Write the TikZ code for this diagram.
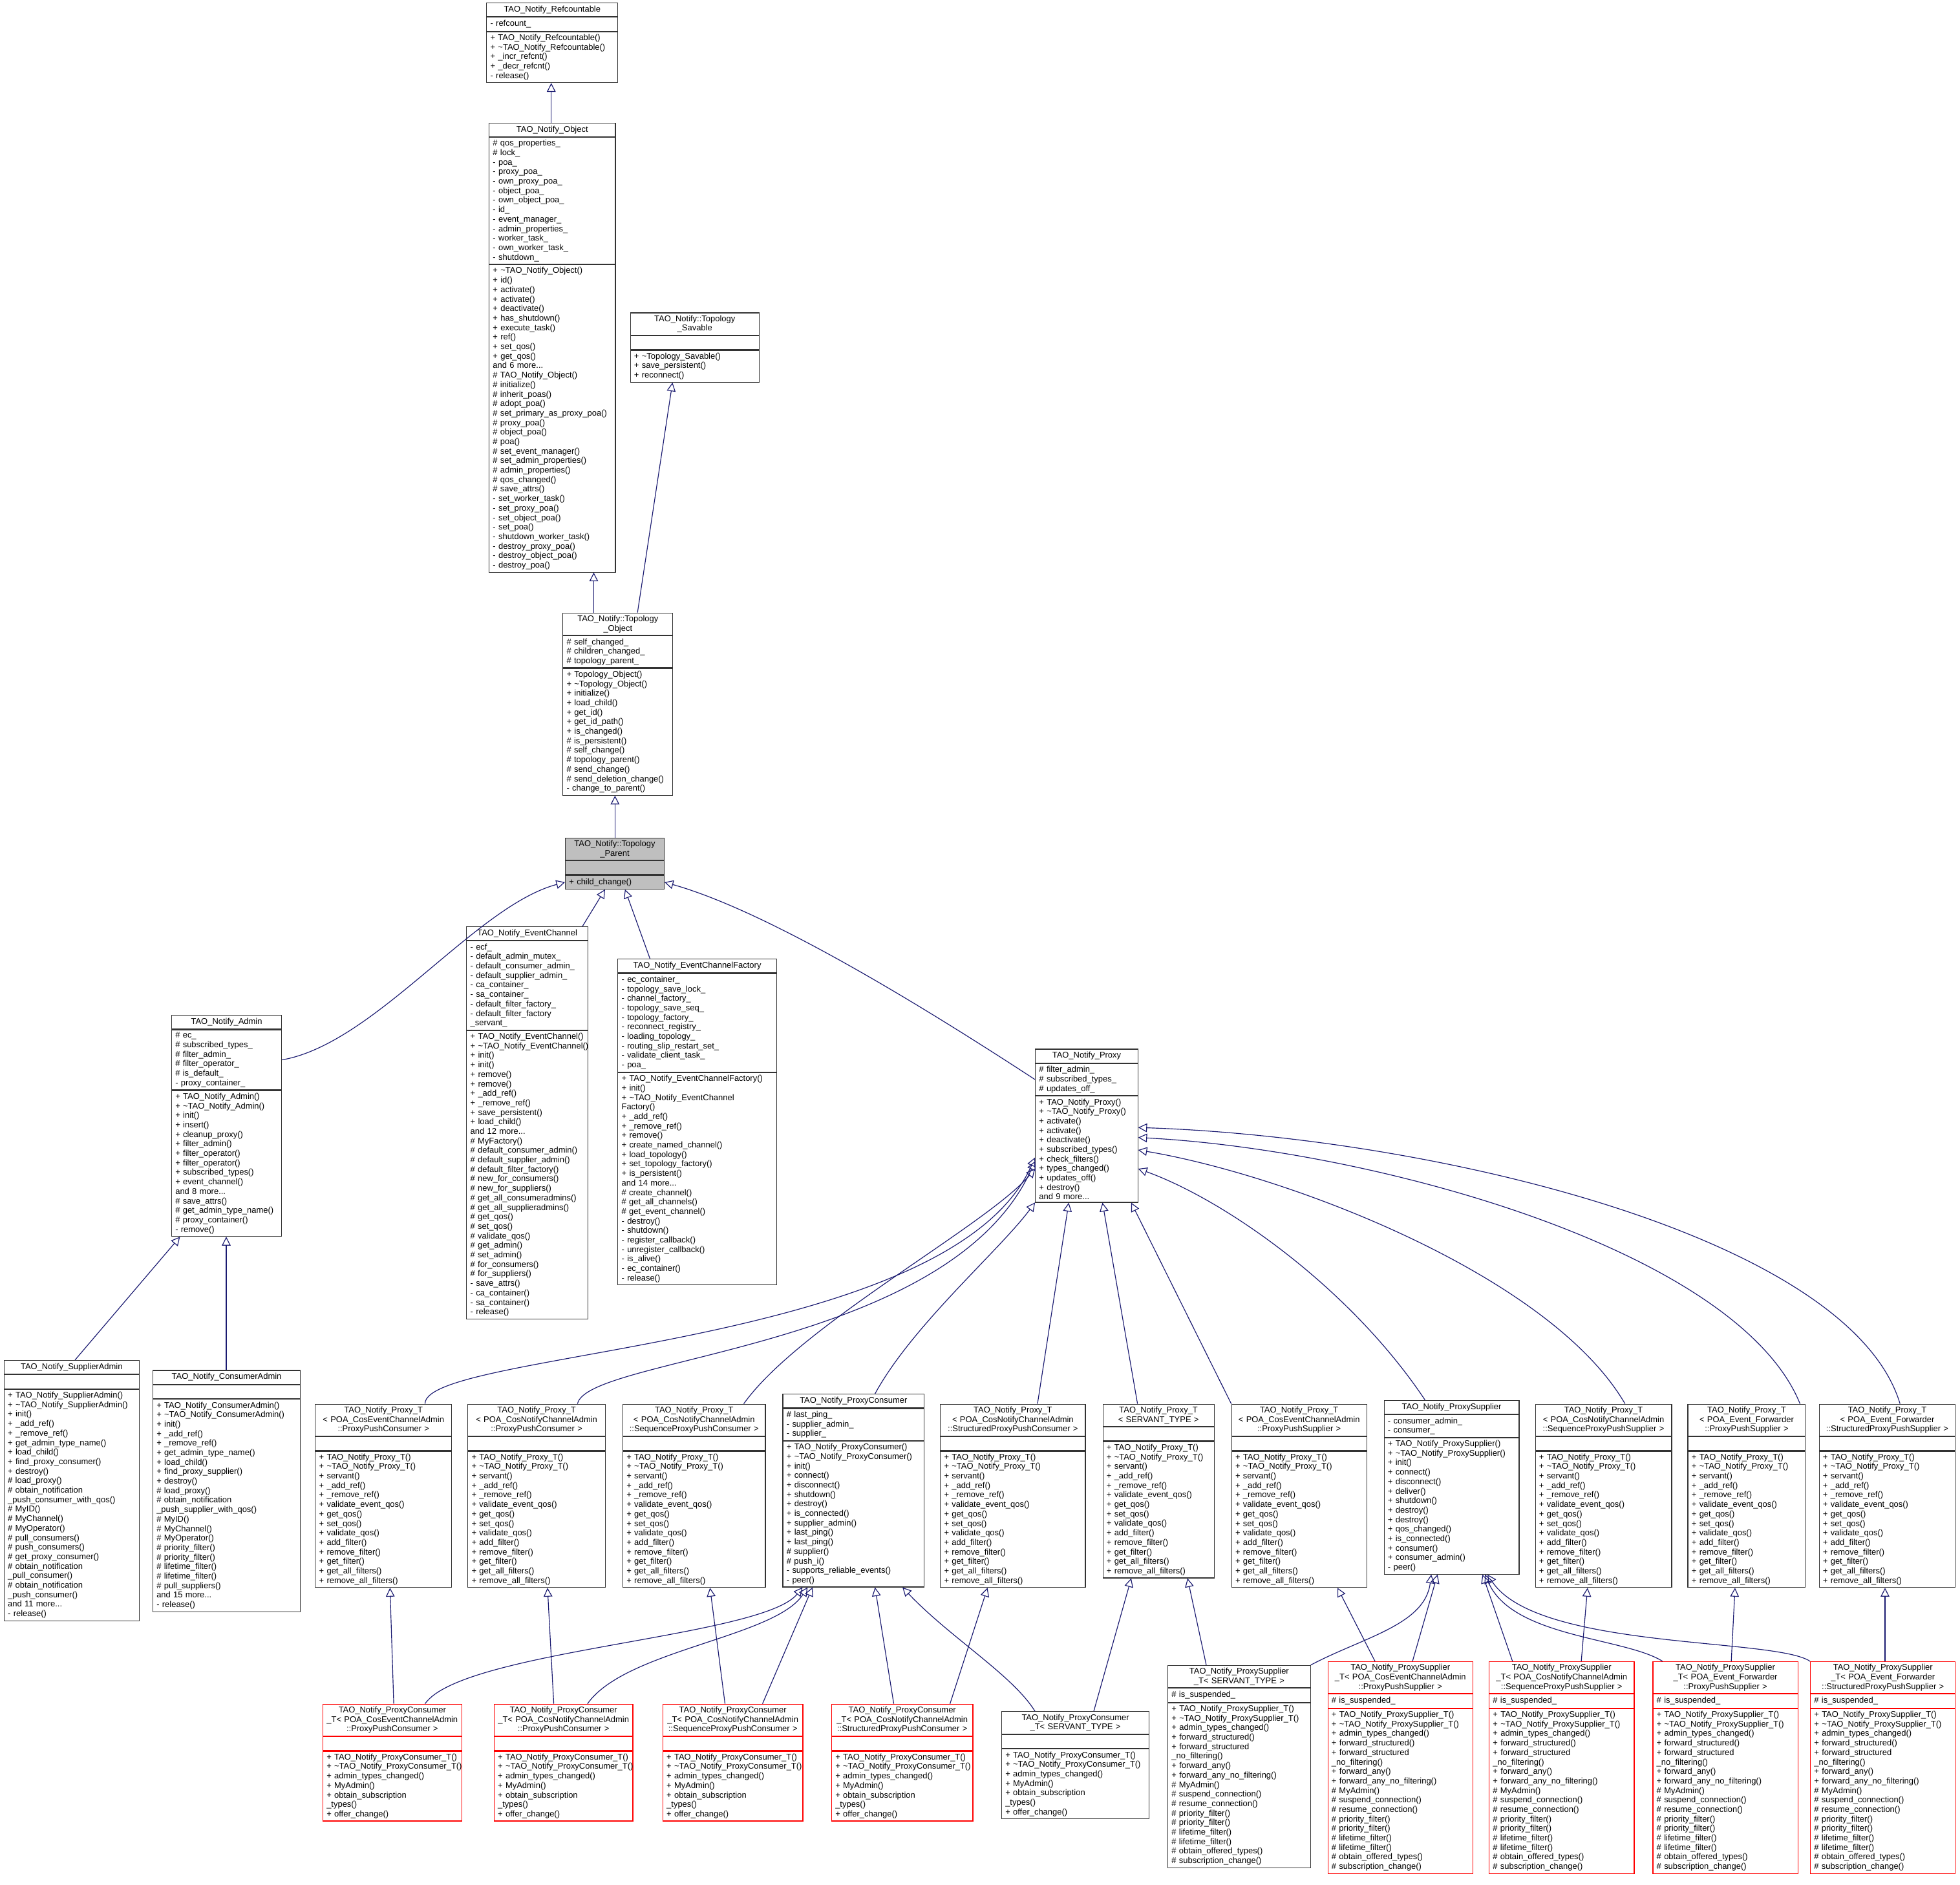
\documentclass[tikz,border=0pt]{standalone}
\usepackage{fontspec}
\setmainfont{Liberation Sans}
\usetikzlibrary{arrows.meta}
\definecolor{edgec}{HTML}{191970}
\newcommand\tl{+\nobreakspace\textasciitilde}
\tikzset{
 csec/.style={draw=black!80,line width=0.6pt,fill=white,inner xsep=3pt,inner ysep=2pt,font=\fontsize{6.7}{7.6}\selectfont,align=left,minimum height=11pt,anchor=north west},
 ctitle/.style={csec,align=center},
 redc/.style={draw=red},
 grayc/.style={fill=black!25},
 inh/.style={draw=edgec,line width=0.6pt,-{Triangle[open,length=7pt,width=7pt]}},
}
\newcommand\umlcls[8]{%
 \pgfmathsetmacro\tw{#4-6}%
 \node[ctitle,#8,text width=\tw pt] (#1t) at (#2,-#3) {#5};
 \node[csec,#8,text width=\tw pt] (#1a) at (#1t.south west) {#6};
 \node[csec,#8,text width=\tw pt] (#1m) at (#1a.south west) {#7};
}
\newcommand\PTm{+ TAO\_Notify\_Proxy\_T()\\\tl TAO\_Notify\_Proxy\_T()\\+ servant()\\+ \_add\_ref()\\+ \_remove\_ref()\\+ validate\_event\_qos()\\+ get\_qos()\\+ set\_qos()\\+ validate\_qos()\\+ add\_filter()\\+ remove\_filter()\\+ get\_filter()\\+ get\_all\_filters()\\+ remove\_all\_filters()}
\newcommand\PCm{+ TAO\_Notify\_ProxyConsumer\_T()\\\tl TAO\_Notify\_ProxyConsumer\_T()\\+ admin\_types\_changed()\\+ MyAdmin()\\+ obtain\_subscription\\\_types()\\+ offer\_change()}
\newcommand\PSm{+ TAO\_Notify\_ProxySupplier\_T()\\\tl TAO\_Notify\_ProxySupplier\_T()\\+ admin\_types\_changed()\\+ forward\_structured()\\+ forward\_structured\\\_no\_filtering()\\+ forward\_any()\\+ forward\_any\_no\_filtering()\\\# MyAdmin()\\\# suspend\_connection()\\\# resume\_connection()\\\# priority\_filter()\\\# priority\_filter()\\\# lifetime\_filter()\\\# lifetime\_filter()\\\# obtain\_offered\_types()\\\# subscription\_change()}
\begin{document}
\begin{tikzpicture}[x=1pt,y=1pt]
\useasboundingbox (0,0) rectangle (1568,-1507.5);
\fill[white] (0,0) rectangle (1568,-1507.5);
% top chain
\umlcls{ref}{389}{2}{105}{TAO\_Notify\_Refcountable}{- refcount\_}{+ TAO\_Notify\_Refcountable()\\\tl TAO\_Notify\_Refcountable()\\+ \_incr\_refcnt()\\+ \_decr\_refcnt()\\- release()}{}
\umlcls{obj}{391}{98}{101}{TAO\_Notify\_Object}{\# qos\_properties\_\\\# lock\_\\- poa\_\\- proxy\_poa\_\\- own\_proxy\_poa\_\\- object\_poa\_\\- own\_object\_poa\_\\- id\_\\- event\_manager\_\\- admin\_properties\_\\- worker\_task\_\\- own\_worker\_task\_\\- shutdown\_}{\tl TAO\_Notify\_Object()\\+ id()\\+ activate()\\+ activate()\\+ deactivate()\\+ has\_shutdown()\\+ execute\_task()\\+ ref()\\+ set\_qos()\\+ get\_qos()\\and 6 more...\\\# TAO\_Notify\_Object()\\\# initialize()\\\# inherit\_poas()\\\# adopt\_poa()\\\# set\_primary\_as\_proxy\_poa()\\\# proxy\_poa()\\\# object\_poa()\\\# poa()\\\# set\_event\_manager()\\\# set\_admin\_properties()\\\# admin\_properties()\\\# qos\_changed()\\\# save\_attrs()\\- set\_worker\_task()\\- set\_proxy\_poa()\\- set\_object\_poa()\\- set\_poa()\\- shutdown\_worker\_task()\\- destroy\_proxy\_poa()\\- destroy\_object\_poa()\\- destroy\_poa()}{}
\umlcls{sav}{504}{250}{103}{TAO\_Notify::Topology\\\_Savable}{}{\tl Topology\_Savable()\\+ save\_persistent()\\+ reconnect()}{}
\umlcls{topo}{450}{490}{88}{TAO\_Notify::Topology\\\_Object}{\# self\_changed\_\\\# children\_changed\_\\\# topology\_parent\_}{+ Topology\_Object()\\\tl Topology\_Object()\\+ initialize()\\+ load\_child()\\+ get\_id()\\+ get\_id\_path()\\+ is\_changed()\\\# is\_persistent()\\\# self\_change()\\\# topology\_parent()\\\# send\_change()\\\# send\_deletion\_change()\\- change\_to\_parent()}{}
\umlcls{par}{452}{670}{79}{TAO\_Notify::Topology\\\_Parent}{}{+ child\_change()}{grayc}
% second level
\umlcls{adm}{137}{812}{88}{TAO\_Notify\_Admin}{\# ec\_\\\# subscribed\_types\_\\\# filter\_admin\_\\\# filter\_operator\_\\\# is\_default\_\\- proxy\_container\_}{+ TAO\_Notify\_Admin()\\\tl TAO\_Notify\_Admin()\\+ init()\\+ insert()\\+ cleanup\_proxy()\\+ filter\_admin()\\+ filter\_operator()\\+ filter\_operator()\\+ subscribed\_types()\\+ event\_channel()\\and 8 more...\\\# save\_attrs()\\\# get\_admin\_type\_name()\\\# proxy\_container()\\- remove()}{}
\umlcls{ec}{373}{741}{97}{TAO\_Notify\_EventChannel}{- ecf\_\\- default\_admin\_mutex\_\\- default\_consumer\_admin\_\\- default\_supplier\_admin\_\\- ca\_container\_\\- sa\_container\_\\- default\_filter\_factory\_\\- default\_filter\_factory\\\_servant\_}{+ TAO\_Notify\_EventChannel()\\\tl TAO\_Notify\_EventChannel()\\+ init()\\+ init()\\+ remove()\\+ remove()\\+ \_add\_ref()\\+ \_remove\_ref()\\+ save\_persistent()\\+ load\_child()\\and 12 more...\\\# MyFactory()\\\# default\_consumer\_admin()\\\# default\_supplier\_admin()\\\# default\_filter\_factory()\\\# new\_for\_consumers()\\\# new\_for\_suppliers()\\\# get\_all\_consumeradmins()\\\# get\_all\_supplieradmins()\\\# get\_qos()\\\# set\_qos()\\\# validate\_qos()\\\# get\_admin()\\\# set\_admin()\\\# for\_consumers()\\\# for\_suppliers()\\- save\_attrs()\\- ca\_container()\\- sa\_container()\\- release()}{}
\umlcls{ecf}{494}{767}{127}{TAO\_Notify\_EventChannelFactory}{- ec\_container\_\\- topology\_save\_lock\_\\- channel\_factory\_\\- topology\_save\_seq\_\\- topology\_factory\_\\- reconnect\_registry\_\\- loading\_topology\_\\- routing\_slip\_restart\_set\_\\- validate\_client\_task\_\\- poa\_}{+ TAO\_Notify\_EventChannelFactory()\\+ init()\\\tl TAO\_Notify\_EventChannel\\Factory()\\+ \_add\_ref()\\+ \_remove\_ref()\\+ remove()\\+ create\_named\_channel()\\+ load\_topology()\\+ set\_topology\_factory()\\+ is\_persistent()\\and 14 more...\\\# create\_channel()\\\# get\_all\_channels()\\\# get\_event\_channel()\\- destroy()\\- shutdown()\\- register\_callback()\\- unregister\_callback()\\- is\_alive()\\- ec\_container()\\- release()}{}
\umlcls{prx}{828}{839}{82}{TAO\_Notify\_Proxy}{\# filter\_admin\_\\\# subscribed\_types\_\\\# updates\_off\_}{+ TAO\_Notify\_Proxy()\\\tl TAO\_Notify\_Proxy()\\+ activate()\\+ activate()\\+ deactivate()\\+ subscribed\_types()\\+ check\_filters()\\+ types\_changed()\\+ updates\_off()\\+ destroy()\\and 9 more...}{}
% admins
\umlcls{sa}{3}{1088}{108}{TAO\_Notify\_SupplierAdmin}{}{+ TAO\_Notify\_SupplierAdmin()\\\tl TAO\_Notify\_SupplierAdmin()\\+ init()\\+ \_add\_ref()\\+ \_remove\_ref()\\+ get\_admin\_type\_name()\\+ load\_child()\\+ find\_proxy\_consumer()\\+ destroy()\\\# load\_proxy()\\\# obtain\_notification\\\_push\_consumer\_with\_qos()\\\# MyID()\\\# MyChannel()\\\# MyOperator()\\\# pull\_consumers()\\\# push\_consumers()\\\# get\_proxy\_consumer()\\\# obtain\_notification\\\_pull\_consumer()\\\# obtain\_notification\\\_push\_consumer()\\and 11 more...\\- release()}{}
\umlcls{ca}{122}{1096}{118}{TAO\_Notify\_ConsumerAdmin}{}{+ TAO\_Notify\_ConsumerAdmin()\\\tl TAO\_Notify\_ConsumerAdmin()\\+ init()\\+ \_add\_ref()\\+ \_remove\_ref()\\+ get\_admin\_type\_name()\\+ load\_child()\\+ find\_proxy\_supplier()\\+ destroy()\\\# load\_proxy()\\\# obtain\_notification\\\_push\_supplier\_with\_qos()\\\# MyID()\\\# MyChannel()\\\# MyOperator()\\\# priority\_filter()\\\# priority\_filter()\\\# lifetime\_filter()\\\# lifetime\_filter()\\\# pull\_suppliers()\\and 15 more...\\- release()}{}
% middle row
\umlcls{pa}{252}{1123}{109}{TAO\_Notify\_Proxy\_T\\< POA\_CosEventChannelAdmin\\::ProxyPushConsumer >}{}{\PTm}{}
\umlcls{pb}{374}{1123}{110}{TAO\_Notify\_Proxy\_T\\< POA\_CosNotifyChannelAdmin\\::ProxyPushConsumer >}{}{\PTm}{}
\umlcls{pc}{498}{1123}{114}{TAO\_Notify\_Proxy\_T\\< POA\_CosNotifyChannelAdmin\\::SequenceProxyPushConsumer >}{}{\PTm}{}
\umlcls{pcon}{626}{1115}{113}{TAO\_Notify\_ProxyConsumer}{\# last\_ping\_\\- supplier\_admin\_\\- supplier\_}{+ TAO\_Notify\_ProxyConsumer()\\\tl TAO\_Notify\_ProxyConsumer()\\+ init()\\+ connect()\\+ disconnect()\\+ shutdown()\\+ destroy()\\+ is\_connected()\\+ supplier\_admin()\\+ last\_ping()\\+ last\_ping()\\\# supplier()\\\# push\_i()\\- supports\_reliable\_events()\\- peer()}{}
\umlcls{pd}{752}{1123}{116}{TAO\_Notify\_Proxy\_T\\< POA\_CosNotifyChannelAdmin\\::StructuredProxyPushConsumer >}{}{\PTm}{}
\umlcls{pe}{882}{1123}{89}{TAO\_Notify\_Proxy\_T\\< SERVANT\_TYPE >}{}{\PTm}{}
\umlcls{pf}{985}{1123}{108}{TAO\_Notify\_Proxy\_T\\< POA\_CosEventChannelAdmin\\::ProxyPushSupplier >}{}{\PTm}{}
\umlcls{psup}{1107}{1120}{108}{TAO\_Notify\_ProxySupplier}{- consumer\_admin\_\\- consumer\_}{+ TAO\_Notify\_ProxySupplier()\\\tl TAO\_Notify\_ProxySupplier()\\+ init()\\+ connect()\\+ disconnect()\\+ deliver()\\+ shutdown()\\+ destroy()\\+ destroy()\\+ qos\_changed()\\+ is\_connected()\\+ consumer()\\+ consumer\_admin()\\- peer()}{}
\umlcls{pg}{1228}{1123}{109}{TAO\_Notify\_Proxy\_T\\< POA\_CosNotifyChannelAdmin\\::SequenceProxyPushSupplier >}{}{\PTm}{}
\umlcls{ph}{1350}{1123}{94}{TAO\_Notify\_Proxy\_T\\< POA\_Event\_Forwarder\\::ProxyPushSupplier >}{}{\PTm}{}
\umlcls{pi}{1455}{1123}{109}{TAO\_Notify\_Proxy\_T\\< POA\_Event\_Forwarder\\::StructuredProxyPushSupplier >}{}{\PTm}{}
% bottom row consumers
\umlcls{ca1}{258}{1363}{111}{TAO\_Notify\_ProxyConsumer\\\_T< POA\_CosEventChannelAdmin\\::ProxyPushConsumer >}{}{\PCm}{redc}
\umlcls{ca2}{395}{1363}{111}{TAO\_Notify\_ProxyConsumer\\\_T< POA\_CosNotifyChannelAdmin\\::ProxyPushConsumer >}{}{\PCm}{redc}
\umlcls{ca3}{530}{1363}{112}{TAO\_Notify\_ProxyConsumer\\\_T< POA\_CosNotifyChannelAdmin\\::SequenceProxyPushConsumer >}{}{\PCm}{redc}
\umlcls{ca4}{665}{1363}{113}{TAO\_Notify\_ProxyConsumer\\\_T< POA\_CosNotifyChannelAdmin\\::StructuredProxyPushConsumer >}{}{\PCm}{redc}
\umlcls{ca5}{801}{1369}{118}{TAO\_Notify\_ProxyConsumer\\\_T< SERVANT\_TYPE >}{}{\PCm}{}
% bottom row suppliers
\umlcls{sb0}{934}{1332}{114}{TAO\_Notify\_ProxySupplier\\\_T< SERVANT\_TYPE >}{\# is\_suspended\_}{\PSm}{}
\umlcls{sb1}{1062}{1329}{116}{TAO\_Notify\_ProxySupplier\\\_T< POA\_CosEventChannelAdmin\\::ProxyPushSupplier >}{\# is\_suspended\_}{\PSm}{redc}
\umlcls{sb2}{1191}{1329}{116}{TAO\_Notify\_ProxySupplier\\\_T< POA\_CosNotifyChannelAdmin\\::SequenceProxyPushSupplier >}{\# is\_suspended\_}{\PSm}{redc}
\umlcls{sb3}{1322}{1329}{116}{TAO\_Notify\_ProxySupplier\\\_T< POA\_Event\_Forwarder\\::ProxyPushSupplier >}{\# is\_suspended\_}{\PSm}{redc}
\umlcls{sb4}{1448}{1329}{116}{TAO\_Notify\_ProxySupplier\\\_T< POA\_Event\_Forwarder\\::StructuredProxyPushSupplier >}{\# is\_suspended\_}{\PSm}{redc}
% ===== edges
\draw[inh] (objt.north -| 441,0) -- (refm.south -| 441,0);
\draw[inh] (topot.north -| 475,0) -- (objm.south -| 475,0);
\draw[inh] (topot.north -| 510,0) -- (savm.south -| 538,0);
\draw[inh] (part.north -| 492,0) -- (topom.south -| 492,0);
\draw[inh] (adma.east) .. controls (300,-835) and (380,-725) .. (parm.west);
\draw[inh] (ect.north -| 466,0) -- (parm.south -| 484,0);
\draw[inh] (ecft.north -| 520,0) -- (parm.south -| 500,0);
\draw[inh] (prxa.west) .. controls (700,-780) and (600,-725) .. (parm.east);
\draw[inh] (sat.north -| 60,0) -- (admm.south -| 144,0);
\draw[inh] (cat.north -| 181,0) -- (admm.south -| 181,0);
% middle row to proxy
\draw[inh] (pat.north -| 340,0) .. controls (340,-1080) and (760,-1080) .. (prxm.west |- 0,-926);
\draw[inh] (pbt.north -| 462,0) .. controls (470,-1085) and (760,-1080) .. (prxm.west |- 0,-929);
\draw[inh] (pct.north -| 595,0) .. controls (640,-1060) and (790,-980) .. (prxm.west |- 0,-935);
\draw[inh] (pcont.north -| 700,0) .. controls (730,-1060) and (800,-1000) .. (prxm.west |- 0,-962);
\draw[inh] (pdt.north -| 830,0) -- (prxm.south -| 855,0);
\draw[inh] (pet.north -| 910,0) -- (prxm.south -| 882,0);
\draw[inh] (pft.north -| 985,0) -- (prxm.south -| 905,0);
\draw[inh] (psupt.north -| 1140,0) .. controls (1080,-1030) and (980,-960) .. (prxm.east |- 0,-935);
\draw[inh] (pgt.north -| 1300,0) .. controls (1240,-1020) and (1030,-940) .. (prxm.east |- 0,-920);
\draw[inh] (pht.north -| 1440,0) .. controls (1390,-1000) and (1100,-920) .. (prxm.east |- 0,-910);
\draw[inh] (pit.north -| 1520,0) .. controls (1480,-990) and (1150,-910) .. (prxm.east |- 0,-902);
% bottom consumers
\draw[inh] (ca1t.north -| 315,0) -- (pam.south -| 312,0);
\draw[inh] (ca1t.north -| 340,0) .. controls (370,-1320) and (610,-1310) .. (pconm.south -| 642,0);
\draw[inh] (ca2t.north -| 443,0) -- (pbm.south -| 438,0);
\draw[inh] (ca2t.north -| 470,0) .. controls (500,-1320) and (620,-1310) .. (pconm.south -| 646,0);
\draw[inh] (ca3t.north -| 580,0) -- (pcm.south -| 568,0);
\draw[inh] (ca3t.north -| 610,0) -- (pconm.south -| 650,0);
\draw[inh] (ca4t.north -| 715,0) -- (pconm.south -| 700,0);
\draw[inh] (ca4t.north -| 760,0) -- (pdm.south -| 790,0);
\draw[inh] (ca5t.north -| 828,0) .. controls (810,-1340) and (760,-1310) .. (pconm.south -| 722,0);
\draw[inh] (ca5t.north -| 875,0) -- (pem.south -| 905,0);
% bottom suppliers
\draw[inh] (sb0t.north -| 965,0) -- (pem.south -| 950,0);
\draw[inh] (sb0t.north east) .. controls (1090,-1310) and (1140,-1300) .. (psupm.south -| 1145,0);
\draw[inh] (sb1t.north -| 1100,0) -- (pfm.south -| 1070,0);
\draw[inh] (sb1t.north -| 1130,0) -- (psupm.south -| 1150,0);
\draw[inh] (sb2t.north -| 1210,0) -- (psupm.south -| 1186,0);
\draw[inh] (sb2t.north -| 1265,0) -- (pgm.south -| 1270,0);
\draw[inh] (sb3t.north -| 1330,0) .. controls (1300,-1310) and (1210,-1310) .. (psupm.south -| 1188,0);
\draw[inh] (sb3t.north -| 1385,0) -- (phm.south -| 1388,0);
\draw[inh] (sb4t.north west) .. controls (1420,-1310) and (1230,-1320) .. (psupm.south -| 1190,0);
\draw[inh] (sb4t.north -| 1508,0) -- (pim.south -| 1508,0);
\end{tikzpicture}
\end{document}
